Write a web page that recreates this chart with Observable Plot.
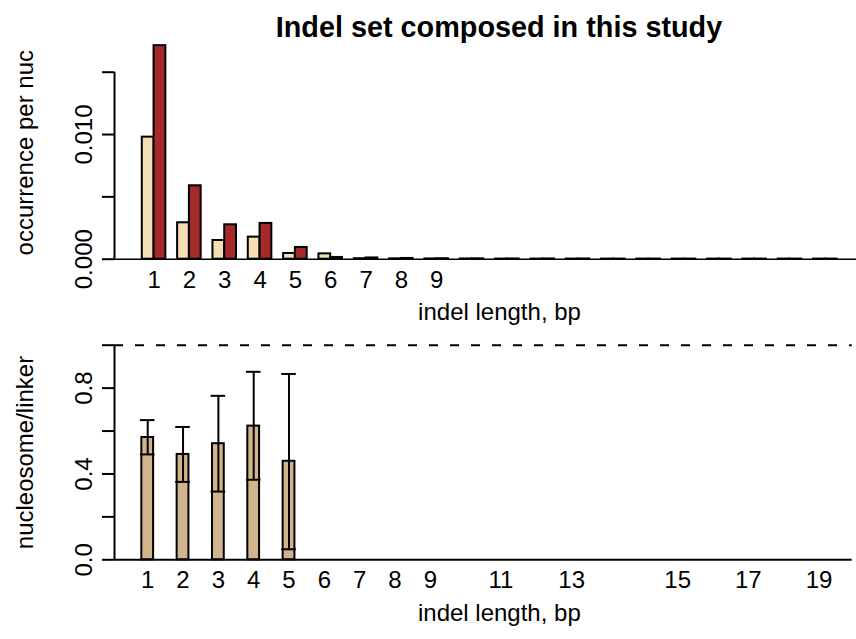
<!DOCTYPE html>
<html>
<head>
<meta charset="utf-8">
<script src="https://cdn.jsdelivr.net/npm/d3@7"></script>
<script src="https://cdn.jsdelivr.net/npm/@observablehq/plot@0.6"></script>
<style>
  body { margin: 0; background: #fff; }
  #chart { position: relative; width: 856px; height: 639px; background: #fff;
           font-family: "Liberation Sans", Arial, Helvetica, sans-serif; }
  #title { position: absolute; left: 199px; width: 600px; top: 13px; text-align: center;
           font-weight: bold; font-size: 28.8px; line-height: 28.8px; color: #000; }
  #top, #bottom { position: absolute; left: 0; }
  #top { top: 0; }
  #bottom { top: 330px; }
</style>
</head>
<body>
<div id="chart">
  <div id="top"></div>
  <div id="bottom"></div>
  <div id="title">Indel set composed in this study</div>
</div>
<script>
// ---------------- data ----------------
const indelSlots = d3.range(1, 21);                       // 20 length classes
const topTickLabels = ["1", "2", "3", "4", "5", "6", "7", "8", "9"];
const nucleosomeOcc = [0.00979, 0.00292, 0.00150, 0.00177, 0.00046, 0.00043, 0.00004, 0.00003,
                       0.00002, 0.00002, 0.00001, 0.00001, 0.00001, 0.00001, 0.00001, 0.00001,
                       0.00001, 0.00001, 0.00001, 0.00001];
const linkerOcc     = [0.01713, 0.00589, 0.00276, 0.00287, 0.00094, 0.00014, 0.00010, 0.00006,
                       0.00004, 0.00003, 0.00002, 0.00002, 0.00002, 0.00001, 0.00001, 0.00001,
                       0.00001, 0.00001, 0.00001, 0.00001];
const topYTicks = [0, 0.005, 0.010, 0.015];
const topYTickLabels = ["0.000", "", "0.010", ""];

const ratioValues = [0.570, 0.491, 0.541, 0.623, 0.459, 0, 0, 0, 0, 0, 0, 0, 0, 0, 0, 0, 0, 0, 0, 0];
const ratioLower  = [0.491, 0.363, 0.318, 0.373, 0.049];
const ratioUpper  = [0.651, 0.619, 0.764, 0.876, 0.866];
const bottomTickSlots  = [1, 2, 3, 4, 5, 6, 7, 8, 9, 11, 13, 16, 18, 20];
const bottomTickLabels = ["1", "2", "3", "4", "5", "6", "7", "8", "9", "11", "13", "15", "17", "19"];
const bottomYTicks = [0, 0.2, 0.4, 0.6, 0.8, 1.0];
const bottomYTickLabels = ["0.0", "", "0.4", "", "0.8", ""];

const xTitle = "indel length, bp";
const topYTitle = "occurrence per nuc";
const bottomYTitle = "nucleosome/linker";

// ---------------- layout ----------------
const W = 856, ML = 114, pxPerUnit = 35.33 / 3;
const FONT = "'Liberation Sans', Arial, Helvetica, sans-serif";
const tickLen = 12 / pxPerUnit;

// top panel: two bars per group (width 1 each), group gap 1
const topRows = indelSlots.map((s, i) => ({slot: s, nuc: nucleosomeOcc[i], lnk: linkerOcc[i]}));
const topXL = 1 - 0.04 * (3 * indelSlots.length - 1);
const topXR = topXL + (W - ML) / pxPerUnit;
const topTicks = topTickLabels.map((t, i) => ({x: 3 * (i + 1) - 1, label: t}));

const topPlot = Plot.plot({
  width: W, height: 330,
  marginLeft: ML, marginRight: 0, marginTop: 71.7, marginBottom: 71.3,
  x: {type: "linear", domain: [topXL, topXR], axis: null},
  y: {domain: [0, 0.015], axis: null},
  style: {fontFamily: FONT, background: "white", overflow: "visible"},
  marks: [
    Plot.ruleY([0], {stroke: "black", strokeWidth: 1.5}),
    Plot.rect(topRows, {x1: d => 3 * d.slot - 2, x2: d => 3 * d.slot - 1, y1: 0, y2: "nuc",
      fill: "#F5DEB3", stroke: "black", strokeWidth: 2}),
    Plot.rect(topRows, {x1: d => 3 * d.slot - 1, x2: d => 3 * d.slot, y1: 0, y2: "lnk",
      fill: "#A52A2A", stroke: "black", strokeWidth: 2}),
    Plot.ruleX([topXL], {y1: 0, y2: 0.015, stroke: "black", strokeWidth: 2}),
    Plot.ruleY(topYTicks, {x1: topXL - tickLen, x2: topXL, stroke: "black", strokeWidth: 2}),
    Plot.text(topYTicks, {x: topXL, y: d => d, text: (d, i) => topYTickLabels[i], rotate: -90,
      textAnchor: "middle", lineAnchor: "bottom", dx: -23, fontSize: 24, fill: "black"}),
    Plot.text(topTicks, {x: "x", y: 0, text: "label", textAnchor: "middle", lineAnchor: "bottom",
      dy: 28.3, fontSize: 24, fill: "black"}),
    Plot.text([xTitle], {frameAnchor: "bottom", textAnchor: "middle", lineAnchor: "bottom",
      dx: 14, dy: 60.8, fontSize: 24, fill: "black"}),
    Plot.text([topYTitle], {frameAnchor: "left", rotate: -90, textAnchor: "middle", lineAnchor: "bottom",
      dx: -82, dy: -13, fontSize: 24, fill: "black"})
  ]
});
document.getElementById("top").appendChild(topPlot);

// bottom panel: one bar per class (width 1), space 2
const botRows = indelSlots.map((s, i) => ({slot: s, v: ratioValues[i]}));
const errRows = ratioLower.map((lo, i) => ({slot: i + 1, lo, hi: ratioUpper[i]}));
const botXL = 2 - 0.04 * (3 * indelSlots.length - 2);
const botXR = 3 * indelSlots.length + 0.04 * (3 * indelSlots.length - 2);
const botMR = W - ML - (botXR - botXL) * pxPerUnit;
const capHalf = 0.62;
const botTicks = bottomTickSlots.map((s, i) => ({x: 3 * s - 0.5, label: bottomTickLabels[i]}));

const bottomPlot = Plot.plot({
  width: W, height: 309,
  marginLeft: ML, marginRight: botMR, marginTop: 14.7, marginBottom: 79.7,
  x: {type: "linear", domain: [botXL, botXR], axis: null},
  y: {domain: [0, 1], axis: null},
  style: {fontFamily: FONT, background: "white", overflow: "visible"},
  marks: [
    Plot.rect(botRows.filter(d => d.v > 0), {x1: d => 3 * d.slot - 1, x2: d => 3 * d.slot, y1: 0, y2: "v",
      fill: "#D2B48C", stroke: "black", strokeWidth: 2}),
    Plot.ruleY([0], {stroke: "black", strokeWidth: 2}),
    Plot.ruleY([1], {stroke: "black", strokeWidth: 2, strokeDasharray: "9,12"}),
    Plot.ruleX(errRows, {x: d => 3 * d.slot - 0.5, y1: "lo", y2: "hi", stroke: "black", strokeWidth: 2}),
    Plot.ruleY(errRows, {y: "hi", x1: d => 3 * d.slot - 0.5 - capHalf, x2: d => 3 * d.slot - 0.5 + capHalf,
      stroke: "black", strokeWidth: 2}),
    Plot.ruleY(errRows, {y: "lo", x1: d => 3 * d.slot - 0.5 - capHalf, x2: d => 3 * d.slot - 0.5 + capHalf,
      stroke: "black", strokeWidth: 2}),
    Plot.ruleX([botXL], {y1: 0, y2: 1, stroke: "black", strokeWidth: 2}),
    Plot.ruleY(bottomYTicks, {x1: botXL - tickLen, x2: botXL, stroke: "black", strokeWidth: 2}),
    Plot.text(bottomYTicks, {x: botXL, y: d => d, text: (d, i) => bottomYTickLabels[i], rotate: -90,
      textAnchor: "middle", lineAnchor: "bottom", dx: -23, fontSize: 24, fill: "black"}),
    Plot.text(botTicks, {x: "x", y: 0, text: "label", textAnchor: "middle", lineAnchor: "bottom",
      dy: 28.3, fontSize: 24, fill: "black"}),
    Plot.text([xTitle], {frameAnchor: "bottom", textAnchor: "middle", lineAnchor: "bottom",
      dx: 16, dy: 60.8, fontSize: 24, fill: "black"}),
    Plot.text([bottomYTitle], {frameAnchor: "left", rotate: -90, textAnchor: "middle", lineAnchor: "bottom",
      dx: -82, fontSize: 24, fill: "black"})
  ]
});
document.getElementById("bottom").appendChild(bottomPlot);
</script>
</body>
</html>
